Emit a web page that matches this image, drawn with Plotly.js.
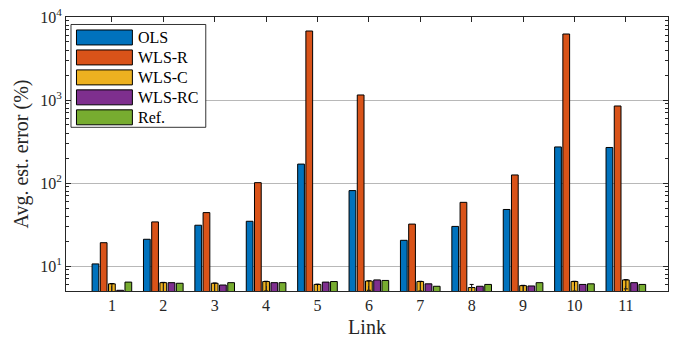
<!DOCTYPE html>
<html>
<head>
<meta charset="utf-8">
<script src="https://cdn.plot.ly/plotly-3.0.1.min.js"></script>
<style>html,body{margin:0;padding:0;background:#fff}#chart{width:675px;height:338px}</style>
</head>
<body>
<div id="chart"></div>
<script>
// ---- data ----
const links = [1, 2, 3, 4, 5, 6, 7, 8, 9, 10, 11];
const linkLabels = ['1','2','3','4','5','6','7','8','9','10','11'];
const seriesNames = ['OLS', 'WLS-R', 'WLS-C', 'WLS-RC', 'Ref.'];
const olsVals   = [10.6, 21, 31, 34.6, 169, 81, 20.4, 30, 48, 272, 268];
const wlsRVals  = [19.1, 34, 44, 101, 6780, 1150, 32, 58.5, 125, 6240, 847];
const wlsCVals  = [6.1, 6.3, 6.2, 6.5, 6.0, 6.6, 6.5, 5.5, 5.8, 6.5, 6.8];
const wlsRCVals = [5.1, 6.3, 5.9, 6.3, 6.4, 6.8, 6.1, 5.7, 5.75, 6.0, 6.3];
const refVals   = [6.4, 6.2, 6.3, 6.3, 6.5, 6.7, 5.7, 6.0, 6.3, 6.1, 6.0];
const wlsCErrUp   = [0.05, 0.05, 0.05, 0.05, 0.05, 0.05, 0.05, 0.5, 0.05, 0.05, 0.05];
const wlsCErrDown = [1.5, 1.5, 1.5, 1.5, 1.5, 1.5, 1.5, 1.5, 1.5, 1.5, 1.5];
const yTickVals = [10, 100, 1000, 10000];
const yTickText = ['10<sup>1</sup>', '10<sup>2</sup>', '10<sup>3</sup>', '10<sup>4</sup>'];
const colors = ['#0072BD', '#D95319', '#EDB120', '#7E2F8E', '#77AC30'];

const allVals = [olsVals, wlsRVals, wlsCVals, wlsRCVals, refVals];
const FONT = 'Liberation Serif, Times New Roman, serif';

const traces = allVals.map((v, i) => {
  const t = {
    type: 'bar',
    name: seriesNames[i],
    x: links,
    y: v,
    marker: {color: colors[i], line: {color: '#000', width: 1}},
    showlegend: false
  };
  if (i === 2) {
    t.error_y = {type: 'data', symmetric: false, array: wlsCErrUp, arrayminus: wlsCErrDown,
                 color: '#000', thickness: 1, width: 2};
  }
  return t;
});

// manual legend (wide swatches like the original)
const shapes = [];
const annotations = [];
const plotL = 65.5, plotR = 668.5, plotT = 17, plotB = 291.5;
const W = plotR - plotL, H = plotB - plotT;
function px(x) { return (x - plotL) / W; }
function py(y) { return 1 - (y - plotT) / H; }
shapes.push({type: 'rect', xref: 'paper', yref: 'paper',
  x0: px(70.5), x1: px(205.5), y0: py(127.5), y1: py(24.5),
  line: {color: '#000', width: 0.8}, fillcolor: '#fff', layer: 'above'});
seriesNames.forEach((n, i) => {
  const top = 30 + i * 20;
  shapes.push({type: 'rect', xref: 'paper', yref: 'paper',
    x0: px(76), x1: px(132), y0: py(top + 15), y1: py(top),
    line: {color: '#000', width: 1}, fillcolor: colors[i], layer: 'above'});
  annotations.push({xref: 'paper', yref: 'paper', x: px(136), y: py(top + 7.5),
    xanchor: 'left', yanchor: 'middle', text: n, showarrow: false,
    font: {family: FONT, size: 16, color: '#000'}});
});

const layout = {
  width: 675, height: 338,
  margin: {l: plotL, r: 675 - plotR, t: plotT, b: 338 - plotB, pad: 0},
  paper_bgcolor: '#fff', plot_bgcolor: '#fff',
  font: {family: FONT, size: 15, color: '#262626'},
  barmode: 'group', bargap: 0.2, bargroupgap: 0.18,
  showlegend: false,
  xaxis: {
    range: [0.107, 11.82], tickmode: 'array', tickvals: links, ticktext: linkLabels,
    ticks: 'inside', ticklen: 5, tickcolor: '#262626', tickwidth: 1,
    showline: true, linecolor: '#262626', linewidth: 1, mirror: 'ticks',
    showgrid: false, zeroline: false,
    tickfont: {family: FONT, size: 16, color: '#262626'},
    title: {text: 'Link', font: {family: FONT, size: 20, color: '#262626'}, standoff: 6}
  },
  yaxis: {
    type: 'log', range: [Math.log10(5), 4],
    tickmode: 'array', tickvals: yTickVals, ticktext: yTickText,
    ticks: 'inside', ticklen: 5, tickcolor: '#262626', tickwidth: 1,
    minor: {ticks: 'inside', ticklen: 3, tickcolor: '#262626', dtick: 'D1', showgrid: false},
    showline: true, linecolor: '#262626', linewidth: 1, mirror: 'ticks',
    showgrid: true, gridcolor: '#b8b8b8', gridwidth: 1, zeroline: false,
    tickfont: {family: FONT, size: 16, color: '#262626'},
    title: {text: 'Avg. est. error (%)', font: {family: FONT, size: 20, color: '#262626'}, standoff: 6}
  },
  shapes: shapes,
  annotations: annotations
};

Plotly.newPlot('chart', traces, layout, {staticPlot: true, displayModeBar: false});
</script>
</body>
</html>
